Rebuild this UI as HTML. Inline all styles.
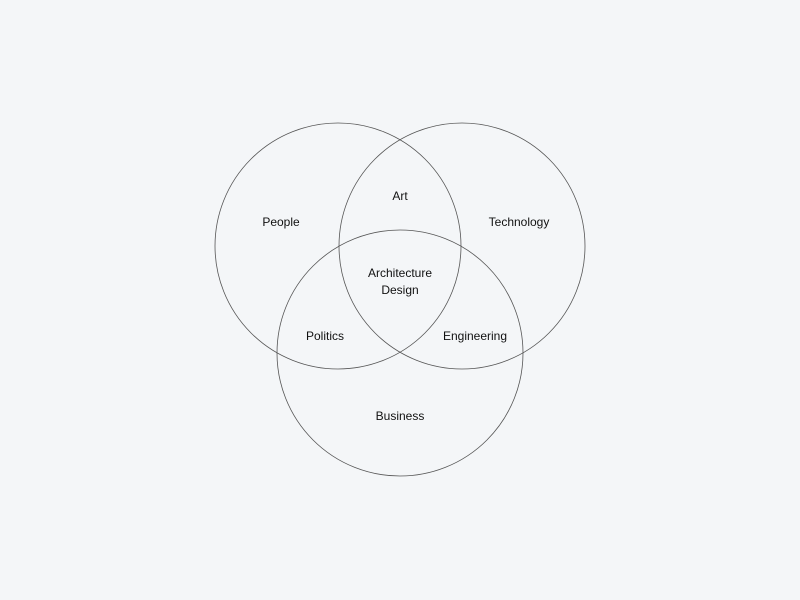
<!DOCTYPE html>
<html><head><meta charset="utf-8"><style>
html,body{margin:0;padding:0;background:#f4f6f8;}
svg{display:block}
text{font-family:"Liberation Sans",sans-serif;font-size:12px;fill:#111;text-anchor:middle}
</style></head><body>
<svg width="800" height="600" viewBox="0 0 800 600">
<rect width="800" height="600" fill="#f4f6f8"/>
<g fill="none" stroke="#555" stroke-width="0.8">
<circle cx="338" cy="246" r="123"/>
<circle cx="462" cy="246" r="123"/>
<circle cx="400" cy="353" r="123"/>
</g>
<text x="281" y="226">People</text>
<text x="400" y="200">Art</text>
<text x="519" y="226">Technology</text>
<text x="400" y="277">Architecture</text>
<text x="400" y="294">Design</text>
<text x="325" y="340">Politics</text>
<text x="475" y="340">Engineering</text>
<text x="400" y="420">Business</text>
</svg>
</body></html>
